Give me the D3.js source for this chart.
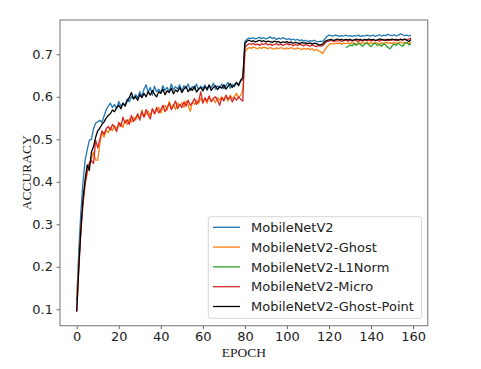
<!DOCTYPE html>
<html>
<head>
<meta charset="utf-8">
<script src="https://cdn.jsdelivr.net/npm/d3@7"></script>
<style>
  body { margin: 0; background: #fff; }
  svg { display: block; }
  .tick text { font-family: "DejaVu Sans", sans-serif; font-size: 13px; fill: #222; }
</style>
</head>
<body>
<div id="chart"></div>
<script>
// accuracy per epoch
const mobilenet = [
  .120,.240,.330,.400,.451,.475,.498,.500,.525,.538,
  .541,.545,.540,.555,.569,.578,.585,.575,.582,.572,
  .589,.578,.585,.580,.595,.588,.600,.596,.605,.598,
  .612,.600,.618,.628,.610,.622,.604,.625,.612,.618,
  .610,.626,.615,.622,.612,.630,.616,.624,.618,.628,
  .614,.626,.620,.630,.615,.624,.618,.630,.616,.625,
  .620,.628,.615,.626,.622,.632,.618,.626,.621,.630,
  .619,.627,.634,.620,.629,.624,.633,.628,.638,.640,
  .730,.735,.738,.737,.739,.736,.738,.740,.737,.739,
  .736,.738,.741,.737,.739,.735,.738,.736,.739,.737,
  .735,.737,.734,.736,.733,.735,.732,.734,.731,.733,
  .730,.732,.731,.733,.730,.729,.731,.730,.736,.742,
  .745,.744,.743,.745,.744,.742,.744,.743,.745,.743,
  .744,.742,.744,.743,.745,.742,.744,.743,.745,.744,
  .743,.745,.742,.744,.746,.743,.745,.744,.747,.745,
  .744,.746,.743,.745,.748,.746,.744,.745,.743,.745
];
const ghost = [
  .130,.210,.290,.350,.395,.420,.440,.455,.470,.451,
  .451,.490,.518,.505,.522,.515,.528,.520,.532,.525,
  .530,.538,.528,.545,.535,.548,.540,.552,.545,.556,
  .548,.569,.552,.560,.566,.555,.572,.560,.568,.575,
  .562,.574,.580,.568,.589,.575,.582,.570,.585,.578,
  .586,.575,.590,.580,.566,.588,.582,.592,.585,.597,
  .588,.595,.585,.600,.590,.596,.586,.598,.592,.600,
  .594,.602,.590,.604,.596,.600,.608,.598,.604,.615,
  .705,.712,.716,.714,.717,.715,.713,.716,.714,.717,
  .715,.713,.716,.714,.712,.715,.713,.716,.714,.712,
  .715,.713,.716,.714,.712,.715,.713,.711,.714,.712,
  .714,.711,.713,.709,.712,.708,.706,.702,.710,.718,
  .722,.726,.724,.726,.725,.727,.724,.726,.725,.727,
  .725,.727,.726,.724,.727,.725,.727,.726,.728,.725,
  .727,.725,.728,.726,.724,.727,.725,.728,.726,.727,
  .725,.728,.726,.727,.729,.726,.728,.727,.725,.728
];
// L1Norm only logged from epoch 128 on
const l1normStart = 128;
const l1norm = [
  .716,.718,.722,.720,.725,.721,.726,.723,.719,.724,
  .727,.722,.718,.724,.726,.721,.723,.719,.725,.722,
  .716,.713,.720,.724,.721,.726,.722,.719,.725,.728,
  .722,.724
];
const micro = [
  .095,.195,.285,.350,.395,.425,.445,.450,.443,.498,
  .480,.500,.520,.512,.525,.530,.522,.535,.528,.518,
  .540,.530,.552,.538,.546,.535,.556,.542,.550,.560,
  .545,.565,.552,.570,.558,.548,.572,.560,.575,.562,
  .570,.580,.565,.575,.585,.570,.578,.590,.572,.582,
  .575,.588,.578,.592,.580,.586,.596,.582,.590,.612,
  .585,.598,.590,.602,.588,.596,.600,.592,.580,.598,
  .590,.604,.594,.600,.588,.598,.592,.600,.594,.590,
  .715,.722,.725,.723,.726,.722,.724,.721,.725,.723,
  .726,.722,.724,.721,.723,.725,.722,.724,.721,.723,
  .725,.722,.724,.720,.723,.721,.724,.722,.720,.723,
  .721,.719,.722,.720,.718,.721,.719,.720,.726,.730,
  .731,.733,.730,.732,.731,.733,.730,.732,.734,.731,
  .733,.731,.734,.732,.730,.733,.731,.734,.732,.733,
  .731,.734,.732,.733,.731,.734,.733,.735,.732,.734,
  .733,.735,.732,.734,.736,.733,.735,.734,.736,.738
];
const ghostPoint = [
  .095,.200,.290,.360,.405,.440,.427,.470,.483,.505,
  .520,.526,.535,.541,.550,.556,.560,.569,.565,.575,
  .580,.572,.585,.578,.590,.598,.610,.595,.600,.592,
  .605,.598,.608,.600,.612,.604,.615,.606,.600,.612,
  .608,.618,.605,.614,.610,.620,.607,.616,.612,.622,
  .610,.618,.624,.612,.620,.615,.625,.611,.619,.622,
  .614,.624,.618,.628,.615,.622,.626,.617,.624,.620,
  .628,.618,.625,.631,.622,.628,.634,.626,.639,.645,
  .726,.731,.733,.730,.732,.729,.731,.733,.730,.732,
  .729,.731,.730,.728,.731,.729,.730,.727,.729,.728,
  .730,.727,.729,.726,.728,.727,.725,.728,.726,.727,
  .725,.727,.724,.726,.725,.723,.722,.724,.730,.733,
  .734,.735,.733,.734,.736,.734,.735,.733,.735,.734,
  .735,.733,.734,.736,.734,.735,.733,.735,.734,.736,
  .734,.735,.733,.734,.736,.735,.734,.733,.735,.734,
  .736,.734,.735,.733,.735,.734,.736,.733,.730,.735
];

const seriesNames = ["MobileNetV2", "MobileNetV2-Ghost", "MobileNetV2-L1Norm", "MobileNetV2-Micro", "MobileNetV2-Ghost-Point"];
const seriesColors = ["#1f77b4", "#ff7f0e", "#2ca02c", "#d62728", "#000000"];
const xTicks = [0, 20, 40, 60, 80, 100, 120, 140, 160];
const yTicks = [0.1, 0.2, 0.3, 0.4, 0.5, 0.6, 0.7];

const W = 481, H = 369;
const box = {left: 60, right: 427.7, top: 20, bottom: 325.7};

const series = [
  {name: seriesNames[0], color: seriesColors[0], pts: mobilenet.map((v, i) => [i, v])},
  {name: seriesNames[1], color: seriesColors[1], pts: ghost.map((v, i) => [i, v])},
  {name: seriesNames[2], color: seriesColors[2], pts: l1norm.map((v, i) => [i + l1normStart, v])},
  {name: seriesNames[3], color: seriesColors[3], pts: micro.map((v, i) => [i, v])},
  {name: seriesNames[4], color: seriesColors[4], pts: ghostPoint.map((v, i) => [i, v])}
];

const svg = d3.select("#chart").append("svg")
    .attr("width", W)
    .attr("height", H);

// matplotlib style 5% margins
const x = d3.scaleLinear().domain([-7.95, 166.95]).range([box.left, box.right]);
const y = d3.scaleLinear().domain([0.0614, 0.7807]).range([box.bottom, box.top]);

const line = d3.line().x(d => x(d[0])).y(d => y(d[1]));

svg.append("defs").append("clipPath").attr("id", "clip")
  .append("rect")
    .attr("x", box.left).attr("y", box.top)
    .attr("width", box.right - box.left).attr("height", box.bottom - box.top);

svg.append("g").attr("clip-path", "url(#clip)")
  .selectAll("path")
  .data(series)
  .join("path")
    .attr("d", d => line(d.pts))
    .attr("fill", "none")
    .attr("stroke", d => d.color)
    .attr("stroke-width", 1.3)
    .attr("stroke-linejoin", "round");

// axes
const xAxis = svg.append("g")
    .attr("transform", `translate(0,${box.bottom})`)
    .call(d3.axisBottom(x).tickValues(xTicks).tickSize(3.5).tickPadding(3).tickFormat(d3.format("d")));
const yAxis = svg.append("g")
    .attr("transform", `translate(${box.left},0)`)
    .call(d3.axisLeft(y).tickValues(yTicks).tickSize(3.5).tickPadding(3.5).tickFormat(d3.format(".1f")));
[xAxis, yAxis].forEach(a => {
  a.select(".domain").remove();
  a.selectAll(".tick line").attr("stroke", "#555").attr("stroke-width", 0.9);
});

// frame
svg.append("rect")
    .attr("x", box.left).attr("y", box.top)
    .attr("width", box.right - box.left).attr("height", box.bottom - box.top)
    .attr("fill", "none")
    .attr("stroke", "#8a8a8a")
    .attr("stroke-width", 1.2);

// axis labels
svg.append("text")
    .attr("x", (box.left + box.right) / 2)
    .attr("y", 357)
    .attr("text-anchor", "middle")
    .style("font-family", "'Liberation Serif', 'Times New Roman', serif")
    .style("font-size", "13.5px")
    .attr("fill", "#222")
    .text("EPOCH");

svg.append("text")
    .attr("transform", `translate(31,${(box.top + box.bottom) / 2}) rotate(-90)`)
    .attr("text-anchor", "middle")
    .style("font-family", "'Liberation Serif', 'Times New Roman', serif")
    .style("font-size", "13.5px")
    .attr("fill", "#222")
    .text("ACCURACY");

// legend
const legend = svg.append("g");
legend.append("rect")
    .attr("x", 208.3).attr("y", 216.7)
    .attr("width", 213.4).attr("height", 101.6)
    .attr("rx", 2.5)
    .attr("fill", "#fff")
    .attr("fill-opacity", 0.85)
    .attr("stroke", "#d6d6d6")
    .attr("stroke-width", 1);

const rows = legend.selectAll("g.row")
  .data(series)
  .join("g")
    .attr("class", "row")
    .attr("transform", (d, i) => `translate(213,${227.3 + i * 19.8})`);
rows.append("line")
    .attr("x1", 0).attr("x2", 27)
    .attr("stroke", d => d.color)
    .attr("stroke-width", 1.3);
rows.append("text")
    .attr("x", 38)
    .attr("dy", "0.36em")
    .style("font-family", "'DejaVu Sans', sans-serif")
    .style("font-size", "13px")
    .attr("fill", "#222")
    .text(d => d.name);
</script>
</body>
</html>
